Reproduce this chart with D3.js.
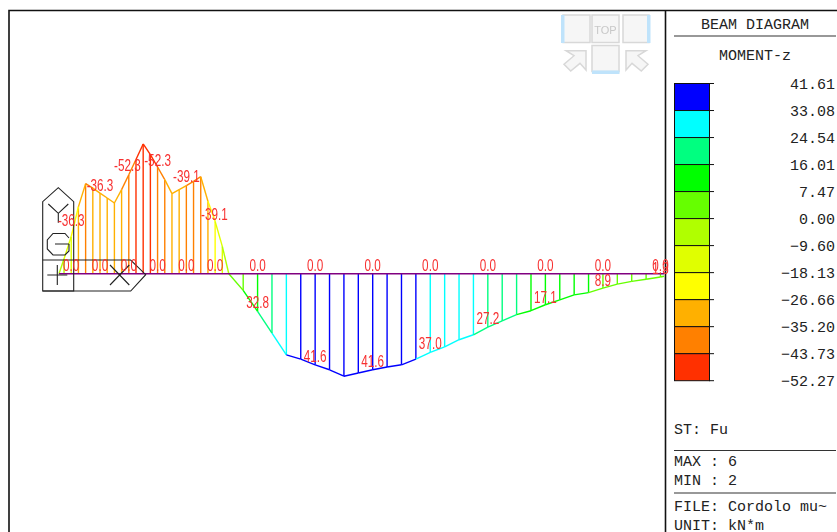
<!DOCTYPE html>
<html><head><meta charset="utf-8">
<script src="https://cdn.jsdelivr.net/npm/d3@7"></script>
<style>
html,body{margin:0;padding:0;background:#fff;overflow:hidden}
svg{display:block}
.mono{font-family:"Liberation Mono",monospace;font-size:15px;fill:#222}
.val{font-family:"Liberation Sans",Arial,sans-serif;font-size:17px;fill:#f73030}
</style></head><body>
<svg id="c" width="837" height="532"></svg>
<script>
// Beam stations (metres along the beam) and moment-z values (kN*m)
const stationPos = [0,0.07,0.17,0.27,0.37,0.47,0.57,0.67,0.77,0.87,0.97,1.07,1.17,1.27,1.37,1.47,1.57,1.67,1.77,1.87,1.97,2.07,2.17,2.27,2.36,
  2.56,2.76,2.96,3.16,3.36,3.56,3.76,3.96,4.16,4.36,4.56,4.76,4.96,5.16,5.36,5.56,5.76,5.96,6.16,6.36,6.56,6.76,6.96,7.16,7.36,7.56,7.76,7.96,8.16,8.36,8.41];
const momentZ = [0,-6,-15,-27,-36.3,-34.5,-32.5,-30.5,-28.5,-33.9,-39.9,-46,-52.3,-48,-43,-37.9,-32.3,-33.9,-35.5,-37.2,-39.1,-29.2,-21.1,-11,0,
  6.7,15.2,23.9,32.7,34.4,36.7,38.7,41.3,40,38.7,37.6,36.7,34.4,31.7,29.5,26.6,24.6,21.5,19,16.5,14.9,12.5,10.5,8.5,7.6,5.8,4.2,3.1,2.2,1.3,1];
// Node labels along the beam
const zeroLabelPos = [0.17,0.57,0.97,1.37,1.77,2.17,2.76,3.56,4.36,5.16,5.96,6.76,7.56,8.36];
const peakLabelText = ["-36.3","-36.3","-52.3","-52.3","-39.1","-39.1","32.8","41.6","41.6","37.0","27.2","17.1","8.9","1.3"];
const peakLabelPos = [0.17,0.57,0.95,1.37,1.77,2.16,2.76,3.56,4.36,5.16,5.96,6.76,7.56,8.36];
const peakLabelLevel = [-21.5,-35.8,-44,-45.8,-39.3,-24,11.5,33,35,28,18,9.5,2.6,-2.5];
// Legend
const legendTicks = [41.61,33.08,24.54,16.01,7.47,0.00,-9.60,-18.13,-26.66,-35.20,-43.73,-52.27];
const legendColors = ["#0000ff","#00ffff","#00ff80","#00ff00","#66ff00","#b0ff00","#e0ff00","#ffff00","#ffb000","#ff8000","#ff3000"];
const panelTitle = "BEAM DIAGRAM", panelSub = "MOMENT-z", stLine = "ST: Fu", maxLine = "MAX : 6", minLine = "MIN : 2",
      fileLine = "FILE: Cordolo mu~", unitLine = "UNIT: kN*m";

const svg = d3.select("#c");
const x = d3.scaleLinear().domain([0,8.36]).range([59,660.5]);
const y = d3.scaleLinear().domain([-52.27,41.61]).range([144,377]);
const color = d3.scaleThreshold().domain(legendTicks.slice(1,-1).reverse()).range(legendColors.slice().reverse());
const pts = stationPos.map((p,i)=>({p,v:momentZ[i]}));

// frame
const frame = svg.append("g");
frame.append("path").attr("d","M9,532V10.5H837").attr("fill","none").attr("stroke","#111").attr("stroke-width",1.6);
frame.append("path").attr("d","M665.5,11V532").attr("stroke","#111").attr("stroke-width",1.6);

// view cube
const cube = svg.append("g").style("filter","blur(0.5px)");
const bar = "#bfe3fb", edge="#d8d8d8", fillc="#f6f6f6";
[[563,15],[592,15],[623,15],[592,45.5]].forEach(([a,b],i)=>cube.append("rect").attr("x",a).attr("y",b).attr("width",i==2?26:27).attr("height",i==3?26:27.5).attr("fill",fillc).attr("stroke",edge).attr("stroke-width",1.5));
cube.append("rect").attr("x",561).attr("y",15).attr("width",3.5).attr("height",28).attr("fill",bar);
cube.append("rect").attr("x",647).attr("y",15).attr("width",3.5).attr("height",28).attr("fill",bar);
cube.append("rect").attr("x",592).attr("y",70.5).attr("width",27.5).attr("height",3.5).attr("fill",bar);
cube.append("text").attr("x",605.5).attr("y",34).attr("text-anchor","middle").attr("font-family","Liberation Sans").attr("font-size",11).attr("fill","#c8c8c8").text("TOP");
cube.append("path").attr("d","M566,50.7H586V70L580,63.3 570.7,71 564,64.3 574,55.7Z").attr("fill",fillc).attr("stroke",edge).attr("stroke-width",1.5);
cube.append("path").attr("d","M646,50.7H626V70L632,63.3 641.3,71 648,64.3 638,55.7Z").attr("fill",fillc).attr("stroke",edge).attr("stroke-width",1.5);

// diagram
const chart = svg.append("g").style("filter","blur(0.3px)");
chart.selectAll("line.st").data(pts.slice(0,-1)).join("line").attr("class","st")
  .attr("x1",d=>x(d.p)).attr("x2",d=>x(d.p)).attr("y1",y(0)).attr("y2",d=>y(d.v))
  .attr("stroke",d=>color(d.v)).attr("stroke-width",1.4);
chart.selectAll("line.seg").data(pts.slice(1)).join("line").attr("class","seg")
  .attr("x1",(d,i)=>x(pts[i].p)).attr("y1",(d,i)=>y(pts[i].v)).attr("x2",d=>x(d.p)).attr("y2",d=>y(d.v))
  .attr("stroke",(d,i)=>color((d.v+pts[i].v)/2)).attr("stroke-width",1.4);
chart.append("line").attr("x1",x(0)).attr("x2",x(8.41)).attr("y1",y(0)).attr("y2",y(0)).attr("stroke","#800080").attr("stroke-width",1.5);

// axis glyph
const g = svg.append("g").attr("fill","none").attr("stroke","#222").attr("stroke-width",1.1).style("filter","blur(0.2px)");
g.append("path").attr("d","M42.7,291V201.7L58.3,187.7 73.7,201.7V291Z");
g.append("path").attr("d","M42.7,260H130.7L145.7,274.7 130.7,291H42.7");
g.append("path").attr("d","M48.3,204L58.3,213.3 68.3,204M58.3,213.3V222.7");
g.append("path").attr("d","M69,244H55M69,244V251L65,255H53L47.3,249V240L53,233.5H65L69,238");
g.append("path").attr("d","M47.3,275H67.3M57.3,265V285");
g.append("path").attr("d","M110,265L129.3,285M129.3,265L110,285");

// beam labels
const lab = svg.append("g").attr("class","labels").style("filter","blur(0.3px)");
const addLabel = (px,py,t)=>lab.append("text").attr("class","val").attr("text-anchor","middle")
  .attr("transform",`translate(${px},${py+6}) scale(0.69,1)`).text(t);
zeroLabelPos.forEach(p=>addLabel(x(p),y(0)-9,"0.0"));
peakLabelText.forEach((t,i)=>addLabel(x(peakLabelPos[i]),y(peakLabelLevel[i]),t));

// panel
const ly = d3.scalePoint().domain(legendTicks).range([83.5,380.7]);
const panel = svg.append("g");
legendColors.forEach((c,i)=>panel.append("rect").attr("x",674.5).attr("width",35)
  .attr("y",ly(legendTicks[i])).attr("height",ly(legendTicks[i+1])-ly(legendTicks[i]))
  .attr("fill",c).attr("stroke","#111").attr("stroke-width",1));
panel.selectAll("line.t").data(legendTicks).join("line").attr("class","t").attr("x1",709).attr("x2",714)
  .attr("y1",d=>ly(d)).attr("y2",d=>ly(d)).attr("stroke","#111");
panel.selectAll("text.t").data(legendTicks).join("text").attr("class","t mono").attr("text-anchor","end").attr("x",835)
  .attr("y",d=>ly(d)+5.5).text(d=>{const s=d.toFixed(2);return d<0?"\u2212"+s.slice(1):s;});
const T=(t,px,py,a)=>panel.append("text").attr("class","mono").attr("x",px).attr("y",py).attr("text-anchor",a||"start").text(t);
T(panelTitle,755,29,"middle"); T(panelSub,755,60,"middle");
T(stLine,674,434); T(maxLine,674,466); T(minLine,674,485); T(fileLine,674,511); T(unitLine,674,530);
[[36],[450.5],[493]].forEach(([b])=>panel.append("line").attr("x1",674).attr("x2",836).attr("y1",b).attr("y2",b).attr("stroke","#333").attr("stroke-width",1.1));
</script></body></html>
